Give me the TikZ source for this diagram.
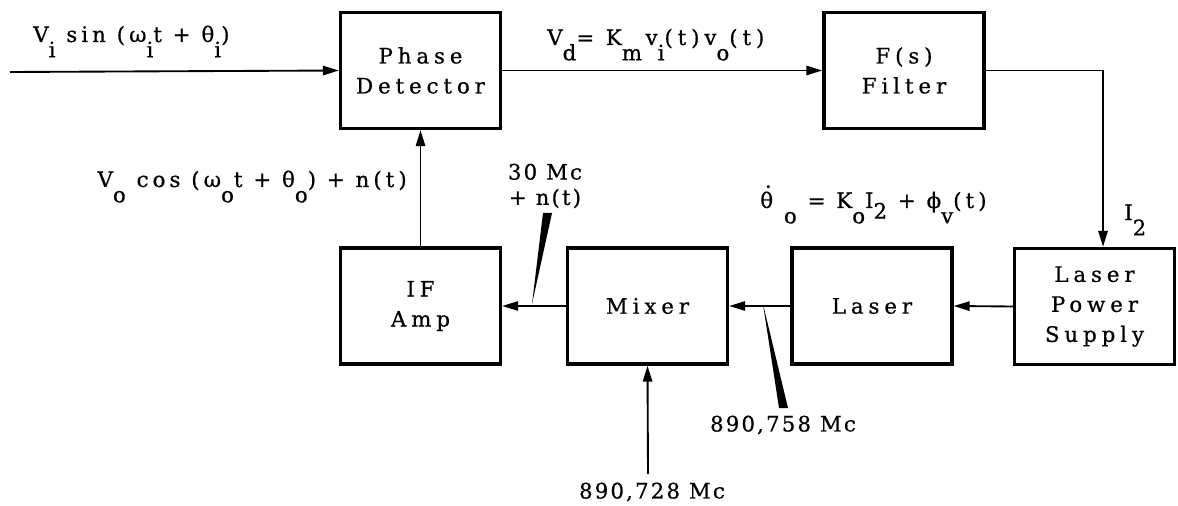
\documentclass[tikz,border=0pt]{standalone}
\usepackage{fontspec}
\setmainfont{DejaVu Serif}[LetterSpace=23, FakeBold=0.6]
\usetikzlibrary{arrows.meta,positioning,calc}
% lowered index, set as in the typed original
\newcommand\lo[1]{\raisebox{-0.72em}{#1}}
\newcommand\thdot{\makebox[0pt][l]{\hspace{0.22em}\raisebox{0.95em}{.}}θ}

\begin{document}
\begin{tikzpicture}[x=0.75pt, y=-0.75pt,
  font=\fontsize{16}{22.5}\selectfont,
  blk/.style={draw, line width=2.5pt, minimum width=120pt, minimum height=87pt,
              align=center, inner sep=0pt},
  fl/.style={-{Triangle[length=12pt,width=7pt]}, line width=1.4pt},
  wedge/.style={fill=black},
  lbl/.style={inner sep=0pt, font=\fontsize{16}{19}\selectfont\addfontfeature{LetterSpace=19}},
  num/.style={inner sep=0pt, font=\fontsize{16}{19}\selectfont\addfontfeature{LetterSpace=10}},
]
\useasboundingbox (0,0) rectangle (1178,506);

% blocks
\node[blk] (pd)  at (420.5,70.5) {Phase\\Detector};
\node[blk] (flt) at (904,70.5)   {F(s)\\Filter};
\node[blk] (ifa) at (420.5,306)  {IF\\Amp};
\node[blk] (mix) at (647.5,306)  {Mixer};
\node[blk] (las) at (872,306)    {Laser};
\node[blk] (ps)  at (1094.5,306.5) {Laser\\Power\\Supply};

% loop
\coordinate (in) at (10,72);
\draw[fl] (in) -- (pd.west);
\draw[fl] (pd.east) -- (flt.west);
\draw[fl] (flt.east) -| ([xshift=6.4pt]ps.north);
\draw[fl] (ps.west) -- (las.east);
\draw[fl] (las.west) -- (mix.east);
\draw[fl] (mix.west) -- (ifa.east);
\draw[fl] (ifa.north) -- (pd.south);
\coordinate (lo) at (648,474);
\draw[fl] (lo) -- (mix.south);

% signal labels
\node[lbl, anchor=base west] (vin) at (33,42) {V\lo{i} sin (ω\lo{i}t + θ\lo{i})};
\node[lbl, anchor=base west, font=\fontsize{16}{19}\selectfont] (vd) at (547,45) {V\lo{d}= K\lo{m}\,v\lo{i}(t)v\lo{o}(t)};
\node[lbl, anchor=base east] (vo) at (407,187) {V\lo{o} cos (ω\lo{o}t + θ\lo{o}) + n(t)};
\node[lbl, anchor=base west] (tho) at (760,208) {\thdot\ \lo{o} = K\lo{o}I\raisebox{-0.5em}{2} + ϕ\lo{v}(t)};
\node[lbl, anchor=base west] (itwo) at (1124,220) {I\lo{2}};
\node[num, align=center] (ifmc) at (545,186) {30 Mc\\+ n(t)};
\node[num] (lsmc) at (783,425) {890,758 Mc};
\node[num] (lomc) at (652,492) {890,728 Mc};

% tapered leaders
\coordinate (tapA) at (532,304);
\coordinate (tapB) at (763,304);
\fill[wedge] (tapA) -- (543,213) -- (552,213) -- cycle;
\fill[wedge] (tapB) -- (779,408) -- (788,408) -- cycle;
\end{tikzpicture}
\end{document}
